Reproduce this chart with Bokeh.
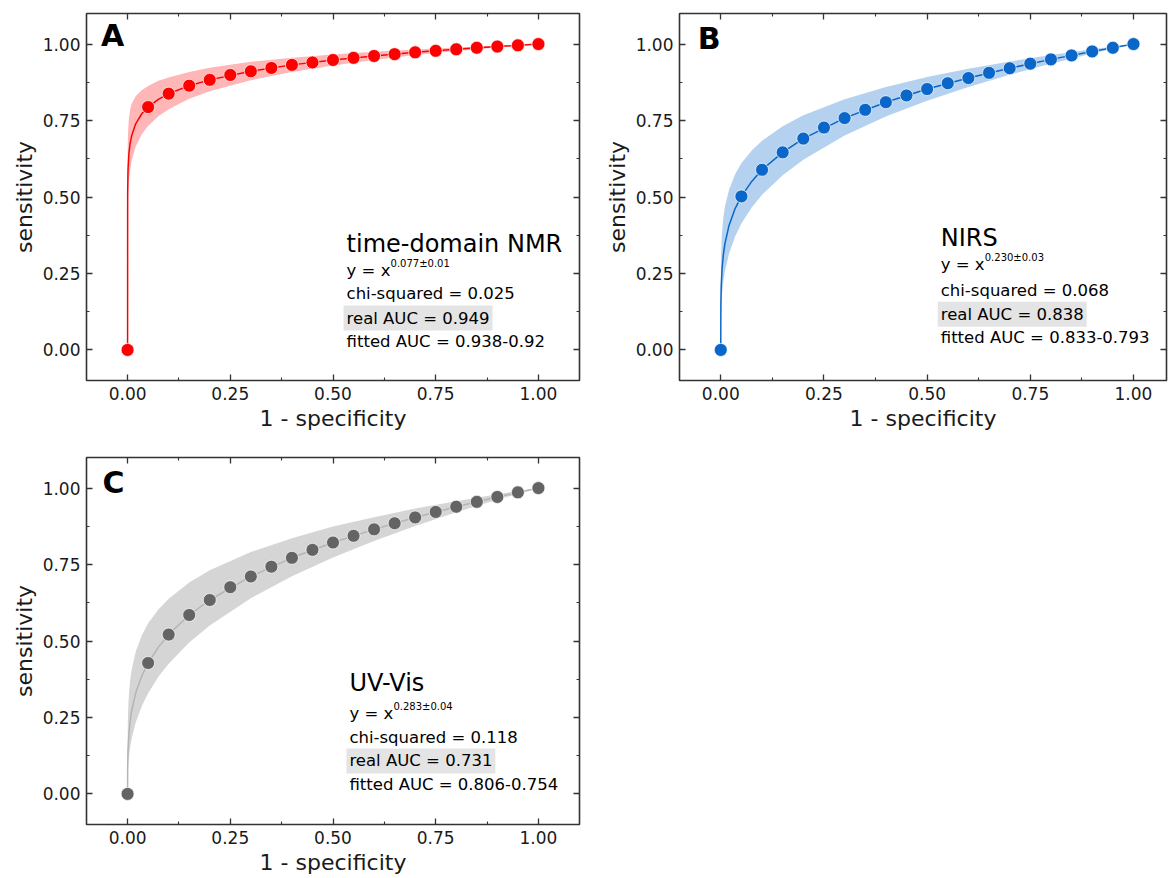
from bokeh.plotting import figure
from bokeh.layouts import column, row
from bokeh.models import Label, LinearAxis, FixedTicker, PrintfTickFormatter, Range1d
from bokeh.embed import file_html
from bokeh.resources import INLINE

# ---------------- data ----------------
roc_x = [0.00, 0.05, 0.10, 0.15, 0.20, 0.25, 0.30, 0.35, 0.40, 0.45, 0.50,
         0.55, 0.60, 0.65, 0.70, 0.75, 0.80, 0.85, 0.90, 0.95, 1.00]
nmr_y = [0.000, 0.794, 0.838, 0.864, 0.883, 0.899, 0.911, 0.922, 0.932, 0.940, 0.948,
         0.955, 0.961, 0.967, 0.973, 0.978, 0.983, 0.988, 0.992, 0.996, 1.000]
nirs_y = [0.000, 0.502, 0.589, 0.646, 0.691, 0.727, 0.758, 0.785, 0.810, 0.832, 0.853,
          0.872, 0.889, 0.906, 0.921, 0.936, 0.950, 0.963, 0.976, 0.988, 1.000]
uvvis_y = [0.000, 0.428, 0.521, 0.585, 0.634, 0.676, 0.711, 0.743, 0.772, 0.798, 0.822,
           0.844, 0.865, 0.885, 0.904, 0.922, 0.939, 0.955, 0.971, 0.986, 1.000]

# fitted curve and its confidence band
fit_x = [0, 0.0002, 0.001, 0.003, 0.006, 0.01, 0.02, 0.035, 0.05, 0.075, 0.1,
         0.15, 0.2, 0.3, 0.4, 0.5, 0.6, 0.7, 0.8, 0.9, 1.0]
nmr_fit = [0, 0.519, 0.587, 0.639, 0.674, 0.701, 0.740, 0.773, 0.794, 0.819, 0.838,
           0.864, 0.883, 0.911, 0.932, 0.948, 0.961, 0.973, 0.983, 0.992, 1.0]
nmr_hi = [0, 0.653, 0.708, 0.755, 0.785, 0.805, 0.830, 0.850, 0.863, 0.880, 0.891,
          0.909, 0.923, 0.942, 0.955, 0.966, 0.975, 0.982, 0.989, 0.995, 1.0]
nmr_lo = [0, 0.412, 0.488, 0.547, 0.587, 0.619, 0.666, 0.706, 0.732, 0.764, 0.787,
          0.821, 0.846, 0.882, 0.909, 0.930, 0.948, 0.964, 0.977, 0.989, 1.0]

nirs_fit = [0, 0.141, 0.204, 0.263, 0.308, 0.347, 0.407, 0.463, 0.502, 0.551, 0.589,
            0.646, 0.691, 0.758, 0.810, 0.853, 0.889, 0.921, 0.950, 0.976, 1.0]
nirs_hi = [0, 0.245, 0.320, 0.383, 0.430, 0.468, 0.524, 0.575, 0.610, 0.652, 0.684,
           0.731, 0.767, 0.820, 0.860, 0.892, 0.919, 0.943, 0.964, 0.983, 1.0]
nirs_lo = [0, 0.081, 0.130, 0.180, 0.221, 0.257, 0.315, 0.372, 0.413, 0.466, 0.507,
           0.571, 0.622, 0.701, 0.763, 0.815, 0.860, 0.900, 0.936, 0.969, 1.0]

uvvis_fit = [0, 0.090, 0.142, 0.193, 0.235, 0.272, 0.331, 0.387, 0.428, 0.480, 0.521,
             0.585, 0.634, 0.711, 0.772, 0.822, 0.865, 0.904, 0.939, 0.971, 1.0]
uvvis_hi = [0, 0.190, 0.260, 0.322, 0.369, 0.407, 0.466, 0.520, 0.558, 0.603, 0.638,
            0.691, 0.731, 0.791, 0.836, 0.874, 0.905, 0.933, 0.957, 0.980, 1.0]
uvvis_lo = [0, 0.042, 0.077, 0.116, 0.150, 0.181, 0.234, 0.288, 0.329, 0.383, 0.426,
            0.495, 0.551, 0.640, 0.712, 0.773, 0.827, 0.876, 0.921, 0.962, 1.0]

panel_letters = ["A", "B", "C"]
method_names = ["time-domain NMR", "NIRS", "UV-Vis"]
fit_exponents = ["0.077\u00b10.01", "0.230\u00b10.03", "0.283\u00b10.04"]
chi_squared = ["0.025", "0.068", "0.118"]
real_auc = ["0.949", "0.838", "0.731"]
fitted_auc = ["0.938-0.92", "0.833-0.793", "0.806-0.754"]

major_ticks = [0.0, 0.25, 0.5, 0.75, 1.0]
minor_ticks = [0.125, 0.375, 0.625, 0.875]

FONT = "DejaVu Sans"
FRAME = "#333333"


def style_axis(ax, show_labels=True):
    ax.ticker = FixedTicker(ticks=major_ticks, minor_ticks=minor_ticks)
    ax.major_tick_in = 6
    ax.major_tick_out = 0
    ax.minor_tick_in = 3
    ax.minor_tick_out = 0
    ax.major_tick_line_color = FRAME
    ax.minor_tick_line_color = FRAME
    ax.major_tick_line_width = 1.3
    ax.minor_tick_line_width = 1.1
    ax.axis_line_color = None
    if show_labels:
        ax.formatter = PrintfTickFormatter(format="%.2f")
        ax.major_label_text_font = FONT
        ax.major_label_text_font_size = "17px"
        ax.major_label_text_color = "#1a1a1a"
        ax.major_label_standoff = 6
        ax.axis_label_text_font = FONT
        ax.axis_label_text_font_size = "22px"
        ax.axis_label_text_font_style = "normal"
        ax.axis_label_text_color = "#1a1a1a"
    else:
        ax.major_label_text_font_size = "0px"
        ax.major_label_standoff = 0
        ax.formatter = PrintfTickFormatter(format=" ")


def make_panel(idx, ys, fit_y, hi_y, lo_y, point_color, line_color, band_color,
               width, height, bl, br, bt, bb, x_end, text_y, letter_pos):
    p = figure(width=width, height=height, output_backend="svg", toolbar_location=None,
               x_range=Range1d(-0.1, x_end), y_range=Range1d(-0.1, 1.1),
               min_border_left=bl, min_border_right=br, min_border_top=bt,
               min_border_bottom=bb)
    p.xgrid.visible = False
    p.ygrid.visible = False
    p.outline_line_color = FRAME
    p.outline_line_width = 1.6
    p.background_fill_color = "white"
    p.border_fill_color = "white"

    p.xaxis.axis_label = "1 - specificity"
    p.yaxis.axis_label = "sensitivity"
    style_axis(p.xaxis[0])
    style_axis(p.yaxis[0])
    p.xaxis[0].axis_label_standoff = 3
    p.yaxis[0].axis_label_standoff = 3
    top = LinearAxis()
    right = LinearAxis()
    style_axis(top, False)
    style_axis(right, False)
    p.add_layout(top, "above")
    p.add_layout(right, "right")

    p.varea(x=fit_x, y1=lo_y, y2=hi_y, fill_color=band_color, fill_alpha=1.0)
    p.line(x=fit_x, y=fit_y, line_color=line_color, line_width=1.5)
    p.scatter(x=roc_x, y=ys, size=13, fill_color=point_color, line_color="white",
              line_width=0.7)

    # panel letter
    p.add_layout(Label(x=letter_pos[0], y=letter_pos[1], text=panel_letters[idx],
                       text_font=FONT, text_font_size="30px", text_font_style="bold",
                       text_color="black", text_baseline="middle", text_align="left"))
    tx = text_y[0]
    p.add_layout(Label(x=tx, y=text_y[1], text=method_names[idx], text_font=FONT,
                       text_font_size="24px", text_color="black",
                       text_baseline="middle", text_align="left"))
    small = dict(text_font=FONT, text_font_size="16.5px", text_color="black",
                 text_baseline="middle", text_align="left")
    p.add_layout(Label(x=tx, y=text_y[2], text="y = x", **small))
    p.add_layout(Label(x=tx, y=text_y[2], x_offset=44, y_offset=7,
                       text=fit_exponents[idx], text_font=FONT,
                       text_font_size="10px", text_color="black",
                       text_baseline="middle", text_align="left"))
    p.add_layout(Label(x=tx, y=text_y[3], text="chi-squared = " + chi_squared[idx], **small))
    p.add_layout(Label(x=tx, y=text_y[4], x_offset=-3, text="real AUC = " + real_auc[idx],
                       background_fill_color="#e4e4e4", background_fill_alpha=1.0,
                       padding=3, **small))
    p.add_layout(Label(x=tx, y=text_y[5], text="fitted AUC = " + fitted_auc[idx], **small))
    return p


pA = make_panel(0, nmr_y, nmr_fit, nmr_hi, nmr_lo, "#ff0000", "#ff0000", "#ffb6b6",
                593, 445, 86, 14, 13, 65, 1.1,
                (0.533, 0.346, 0.261, 0.183, 0.104, 0.027), (-0.065, 1.027))
pB = make_panel(1, nirs_y, nirs_fit, nirs_hi, nirs_lo, "#0a66c8", "#0a66c8", "#b4d2f0",
                575, 445, 86, 2, 13, 65, 1.08,
                (0.533, 0.366, 0.280, 0.193, 0.117, 0.041), (-0.056, 1.017))
pC = make_panel(2, uvvis_y, uvvis_fit, uvvis_hi, uvvis_lo, "#646464", "#b4b4b4", "#d5d5d5",
                593, 433, 86, 14, 12, 54, 1.1,
                (0.54, 0.364, 0.262, 0.184, 0.108, 0.032), (-0.061, 1.019))

layout = column(row(pA, pB, spacing=0), pC, spacing=0)
open("out.html", "w").write(file_html(layout, INLINE))
